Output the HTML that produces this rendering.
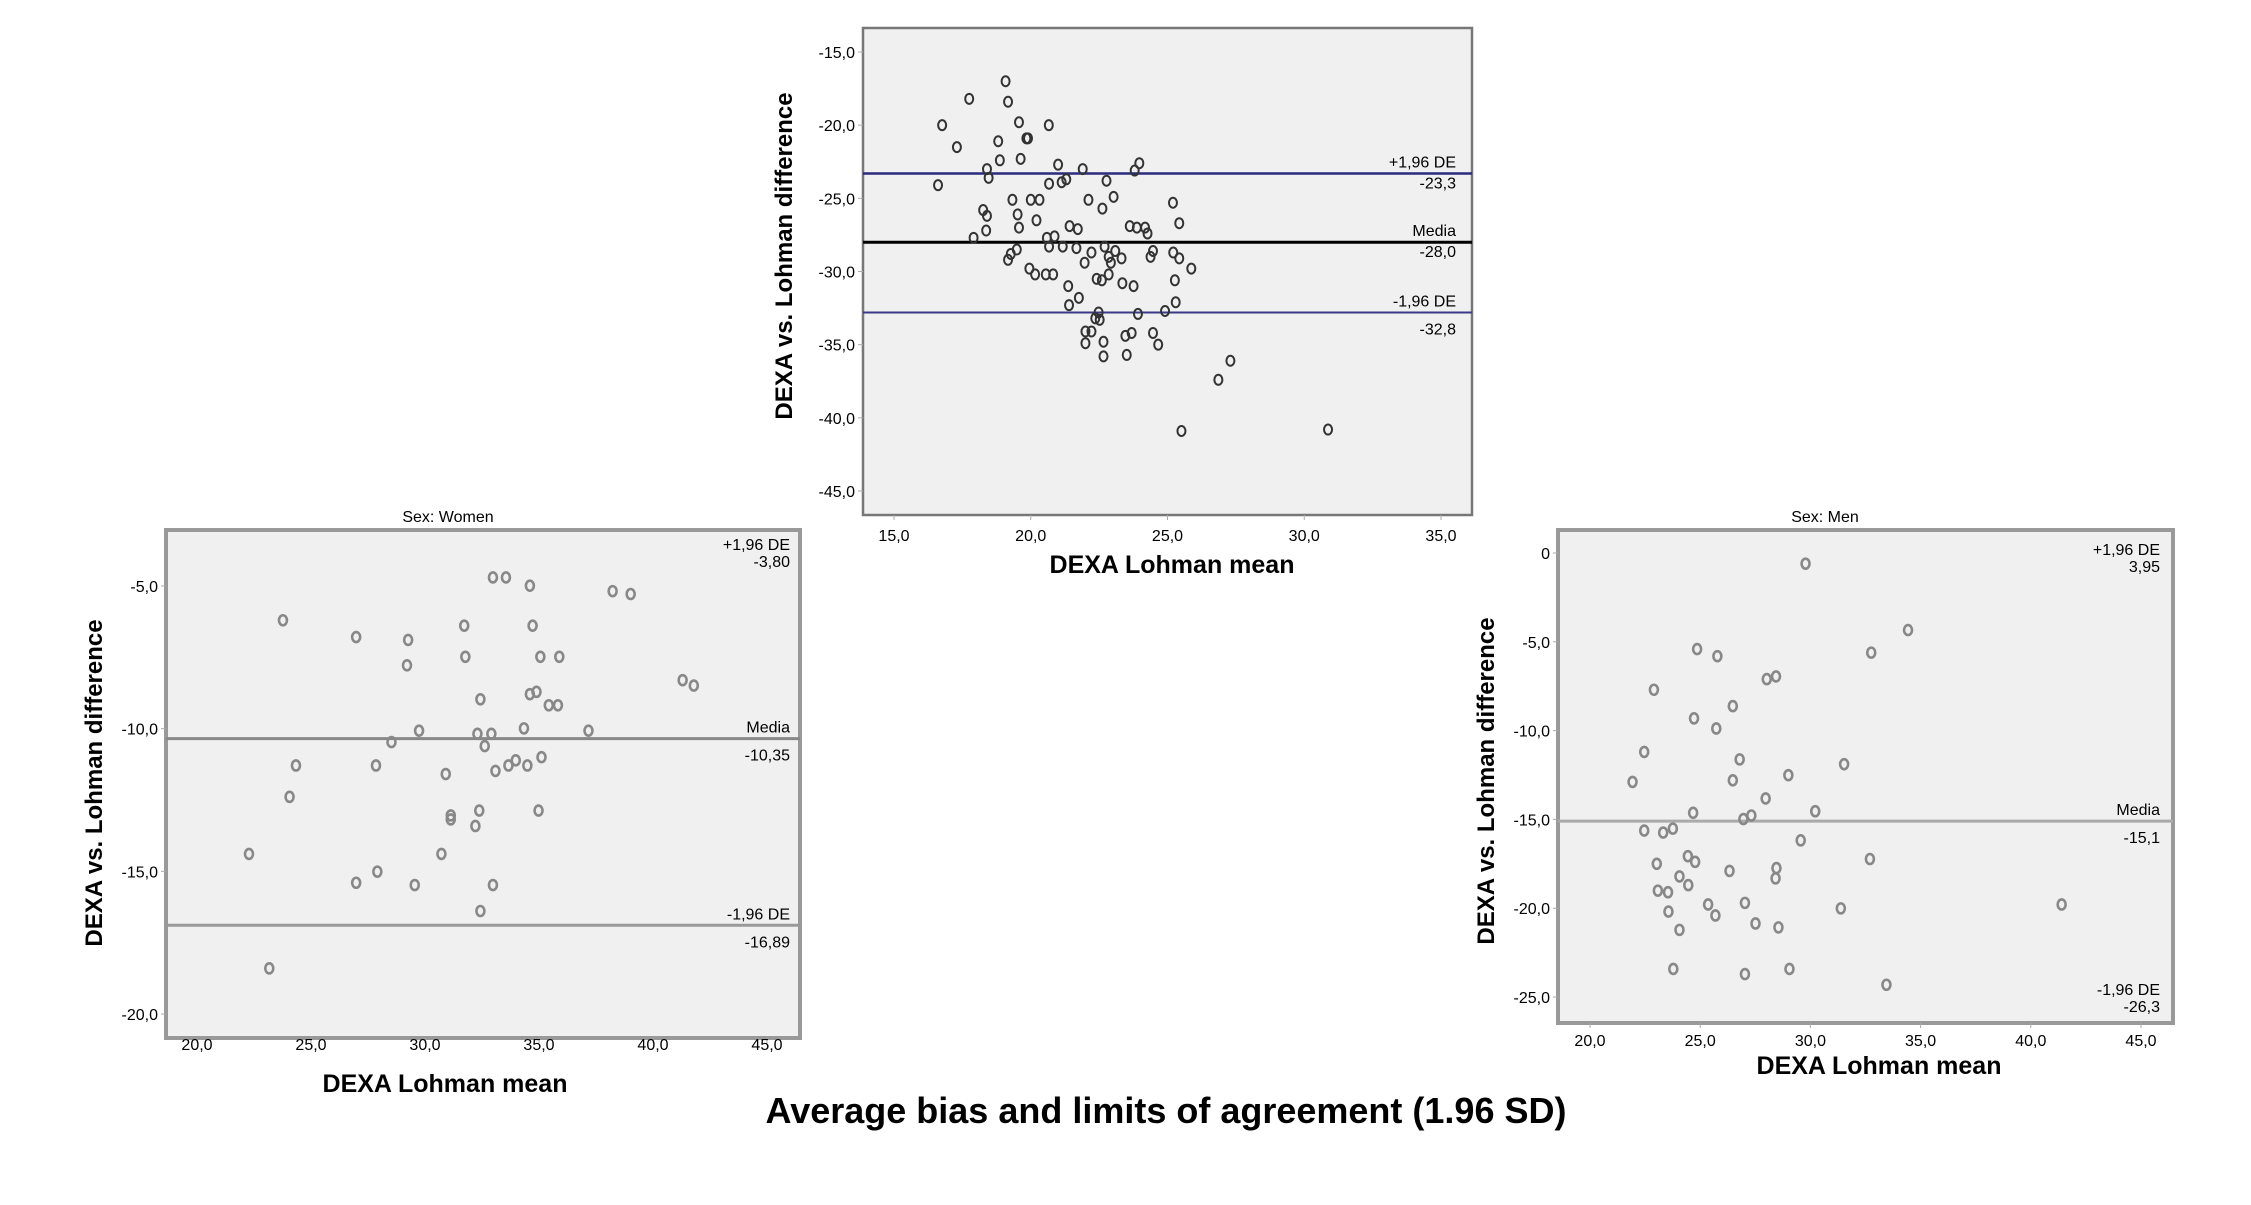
<!DOCTYPE html>
<html><head><meta charset="utf-8"><style>
body{margin:0;background:#fff}
svg{display:block;font-family:"Liberation Sans",sans-serif}
</style></head><body>
<svg id="s" width="2251" height="1205" viewBox="0 0 2251 1205">
<text x="1166" y="1123" text-anchor="middle" font-size="36" font-weight="bold">Average bias and limits of agreement (1.96 SD)</text>
</svg>
<script>
const allX=[19.08,17.75,19.17,16.76,19.57,20.66,19.84,19.9,17.3,18.81,18.87,19.63,18.4,18.46,16.61,21.0,21.9,23.97,23.8,20.67,21.13,21.3,22.77,19.33,20.0,20.32,22.11,23.03,22.62,25.2,18.26,18.4,19.52,20.21,18.37,19.57,21.42,21.72,23.62,23.88,24.18,24.27,25.43,17.91,20.59,20.87,20.67,21.17,21.67,22.7,19.49,19.27,19.17,22.22,21.97,23.09,22.85,22.93,23.32,24.47,24.38,25.21,25.43,25.87,19.95,20.16,20.55,20.82,22.41,22.6,22.85,21.37,23.35,23.76,25.27,21.76,21.4,25.3,24.91,22.48,23.92,22.36,22.52,22.0,22.22,23.69,23.46,24.47,22.0,22.66,24.66,22.66,23.51,27.3,26.86,25.51,30.87];
const allY=[-17.0,-18.2,-18.4,-20.0,-19.8,-20.0,-20.9,-20.9,-21.5,-21.1,-22.4,-22.3,-23.0,-23.6,-24.1,-22.7,-23.0,-22.6,-23.1,-24.0,-23.9,-23.7,-23.8,-25.1,-25.1,-25.1,-25.1,-24.9,-25.7,-25.3,-25.8,-26.2,-26.1,-26.5,-27.2,-27.0,-26.9,-27.1,-26.9,-27.0,-27.0,-27.4,-26.7,-27.7,-27.7,-27.6,-28.3,-28.3,-28.4,-28.3,-28.5,-28.8,-29.2,-28.7,-29.4,-28.6,-29.0,-29.4,-29.1,-28.6,-29.0,-28.7,-29.1,-29.8,-29.8,-30.2,-30.2,-30.2,-30.5,-30.6,-30.2,-31.0,-30.8,-31.0,-30.6,-31.8,-32.3,-32.1,-32.7,-32.8,-32.9,-33.2,-33.3,-34.1,-34.1,-34.2,-34.4,-34.2,-34.9,-34.8,-35.0,-35.8,-35.7,-36.1,-37.4,-40.9,-40.8];
const womenX=[32.98,33.55,34.6,38.23,39.02,23.77,31.72,34.72,26.98,29.26,31.77,35.06,35.89,29.21,41.3,41.79,32.43,34.6,34.89,35.43,35.83,29.74,32.3,32.91,34.34,37.17,28.53,32.62,24.34,27.85,33.66,33.98,34.49,35.11,33.09,30.91,24.06,32.38,34.98,31.13,31.13,32.21,22.28,30.72,27.91,26.98,29.55,32.98,32.43,23.17];
const womenY=[-4.7,-4.7,-4.99,-5.18,-5.28,-6.2,-6.39,-6.39,-6.79,-6.89,-7.48,-7.48,-7.48,-7.78,-8.3,-8.49,-8.97,-8.79,-8.71,-9.18,-9.18,-10.07,-10.18,-10.18,-9.99,-10.07,-10.47,-10.61,-11.29,-11.29,-11.29,-11.11,-11.29,-11.0,-11.48,-11.59,-12.39,-12.87,-12.87,-13.04,-13.18,-13.41,-14.39,-14.39,-15.01,-15.4,-15.48,-15.48,-16.39,-18.4];
const menX=[29.78,34.43,24.86,25.78,32.76,28.02,28.44,22.9,26.48,24.72,25.73,22.46,26.79,31.53,21.93,26.48,29.0,27.97,30.22,24.68,26.96,27.32,22.46,23.32,23.76,29.56,24.44,24.77,23.03,32.7,26.33,28.46,28.42,24.06,24.46,23.08,23.54,25.36,27.03,31.38,41.4,23.56,25.69,27.51,28.55,24.06,23.78,27.03,29.05,33.45];
const menY=[-0.6,-4.34,-5.41,-5.81,-5.61,-7.1,-6.95,-7.7,-8.62,-9.31,-9.88,-11.2,-11.62,-11.89,-12.89,-12.8,-12.51,-13.82,-14.54,-14.63,-14.98,-14.78,-15.63,-15.74,-15.52,-16.18,-17.07,-17.39,-17.5,-17.23,-17.9,-17.74,-18.32,-18.21,-18.7,-19.01,-19.1,-19.79,-19.7,-20.01,-19.79,-20.19,-20.41,-20.86,-21.08,-21.22,-23.42,-23.71,-23.42,-24.31];
const allXTicks=[15,20,25,30,35];
const allYTicks=[-15,-20,-25,-30,-35,-40,-45];
const sexXTicks=[20,25,30,35,40,45];
const womenYTicks=[-5,-10,-15,-20];
const menYTicks=[0,-5,-10,-15,-20,-25];
const allLimits=[-23.3,-28.0,-32.8];
const womenLimits=[-3.80,-10.35,-16.89];
const menLimits=[3.95,-15.1,-26.3];

const NS="http://www.w3.org/2000/svg";
const svg=document.getElementById('s');
function mk(tag,attrs,parent,text){const e=document.createElementNS(NS,tag);for(const k in attrs)e.setAttribute(k,attrs[k]);if(text!==undefined)e.textContent=text;parent.appendChild(e);return e;}
function fmt(v,d){return v.toFixed(d).replace('.',',');}

function chart(c){
  const g=mk('g',{},svg);
  
  
  const sx=v=>c.px0+(v-c.x0)*(c.px1-c.px0)/(c.x1-c.x0);
  const sy=v=>c.py0+(v-c.y0)*(c.py1-c.py0)/(c.y1-c.y0);
  const bg=mk('rect',{x:c.L,y:c.T,width:c.R-c.L,height:c.B-c.T,fill:'#f0f0f0',stroke:c.border,'stroke-width':c.bw},g);
  
  
  c.xt.forEach(t=>{
    mk('line',{x1:sx(t),x2:sx(t),y1:c.B,y2:c.B+5,stroke:'#aaa'},g);
    const tx=mk('text',{x:sx(t),y:c.xly,'text-anchor':'middle','font-size':16},g,fmt(t,1));
    
    
  });
  c.yt.forEach(t=>{
    mk('line',{x1:c.L-5,x2:c.L,y1:sy(t),y2:sy(t),stroke:'#aaa'},g);
    const tx=mk('text',{x:c.L-8,y:sy(t)+6,'text-anchor':'end','font-size':16},g,t===0?'0':fmt(t,1));
    
    
  });
  c.lines.forEach(l=>{
    const ln=mk('line',{x1:c.L,x2:c.R,y1:sy(c.lim[l.i]),y2:sy(c.lim[l.i]),stroke:l.col,'stroke-width':l.w},g);
    
    
  });
  c.labels.forEach(l=>{
    const y=l.fixed!==undefined?l.fixed:sy(c.lim[l.i]);
    const t1=mk('text',{x:c.lx,y:y+l.d1,'text-anchor':'end','font-size':16},g,l.t);
    
    
    const t2=mk('text',{x:c.lx,y:y+l.d2,'text-anchor':'end','font-size':16},g,fmt(c.lim[l.i],l.dec!==undefined?l.dec:c.dec));
    
    
  });
  c.xs.forEach((x,i)=>{
    const p=mk('ellipse',{cx:sx(x),cy:sy(c.ys[i]),rx:4,ry:5,fill:'none',stroke:c.pc,'stroke-width':c.pw},g);
    
    
  });
  const xt=mk('text',{x:c.xtx,y:c.xty,'text-anchor':'middle','font-size':25,'font-weight':'bold'},g,'DEXA Lohman mean');
  
  
  const yt=mk('text',{x:0,y:0,'text-anchor':'middle','font-size':24,'font-weight':'bold',transform:`translate(${c.ytx},${c.yty}) rotate(-90)`},g,'DEXA vs. Lohman difference');
  
  
  if(c.title){
    const tt=mk('text',{x:c.titx,y:522,'text-anchor':'middle','font-size':16},g,c.title);
    
    
  }
}

chart({name:'all-chart',L:863,R:1472,T:28,B:515,border:'#777',bw:2.5,
  x0:15,x1:35,px0:894,px1:1441,y0:-15,y1:-45,py0:52,py1:491,
  xt:allXTicks,yt:allYTicks,xs:allX,ys:allY,lim:allLimits,dec:1,pc:'#333',pw:2,
  xly:541,lx:1456,
  lines:[{i:0,col:'#2a2a80',w:2.5,name:'upper-limit-line'},{i:1,col:'#000',w:3,name:'mean-line'},{i:2,col:'#3a3a88',w:2,name:'lower-limit-line'}],
  labels:[{i:0,t:'+1,96 DE',d1:-6,d2:15},{i:1,t:'Media',d1:-6,d2:15},{i:2,t:'-1,96 DE',d1:-6,d2:22}],
  xtx:1172,xty:573,ytx:792,yty:256});

chart({name:'women-chart',L:166,R:800,T:530,B:1038,border:'#999',bw:4,
  x0:20,x1:45,px0:197,px1:767,y0:-5,y1:-20,py0:586,py1:1014,
  xt:sexXTicks,yt:womenYTicks,xs:womenX,ys:womenY,lim:womenLimits,dec:2,pc:'#888',pw:2.6,
  xly:1050,lx:790,title:'Sex: Women',titx:448,
  lines:[{i:1,col:'#888',w:3,name:'mean-line'},{i:2,col:'#999',w:3,name:'lower-limit-line'}],
  labels:[{i:0,t:'+1,96 DE',fixed:550,d1:0,d2:17},{i:1,t:'Media',d1:-6,d2:22},{i:2,t:'-1,96 DE',d1:-6,d2:22}],
  xtx:445,xty:1092,ytx:102,yty:783});

chart({name:'men-chart',L:1558,R:2173,T:530,B:1023,border:'#999',bw:4,
  x0:20,x1:45,px0:1590,px1:2141,y0:0,y1:-25,py0:553,py1:997,
  xt:sexXTicks,yt:menYTicks,xs:menX,ys:menY,lim:menLimits,dec:1,pc:'#888',pw:2.6,
  xly:1046,lx:2160,title:'Sex: Men',titx:1825,
  lines:[{i:1,col:'#aaa',w:3,name:'mean-line'}],
  labels:[{i:0,t:'+1,96 DE',fixed:555,d1:0,d2:17,dec:2},{i:1,t:'Media',d1:-6,d2:22},{i:2,t:'-1,96 DE',fixed:1001,d1:-6,d2:11}],
  xtx:1879,xty:1074,ytx:1494,yty:781});
</script>
</body></html>
